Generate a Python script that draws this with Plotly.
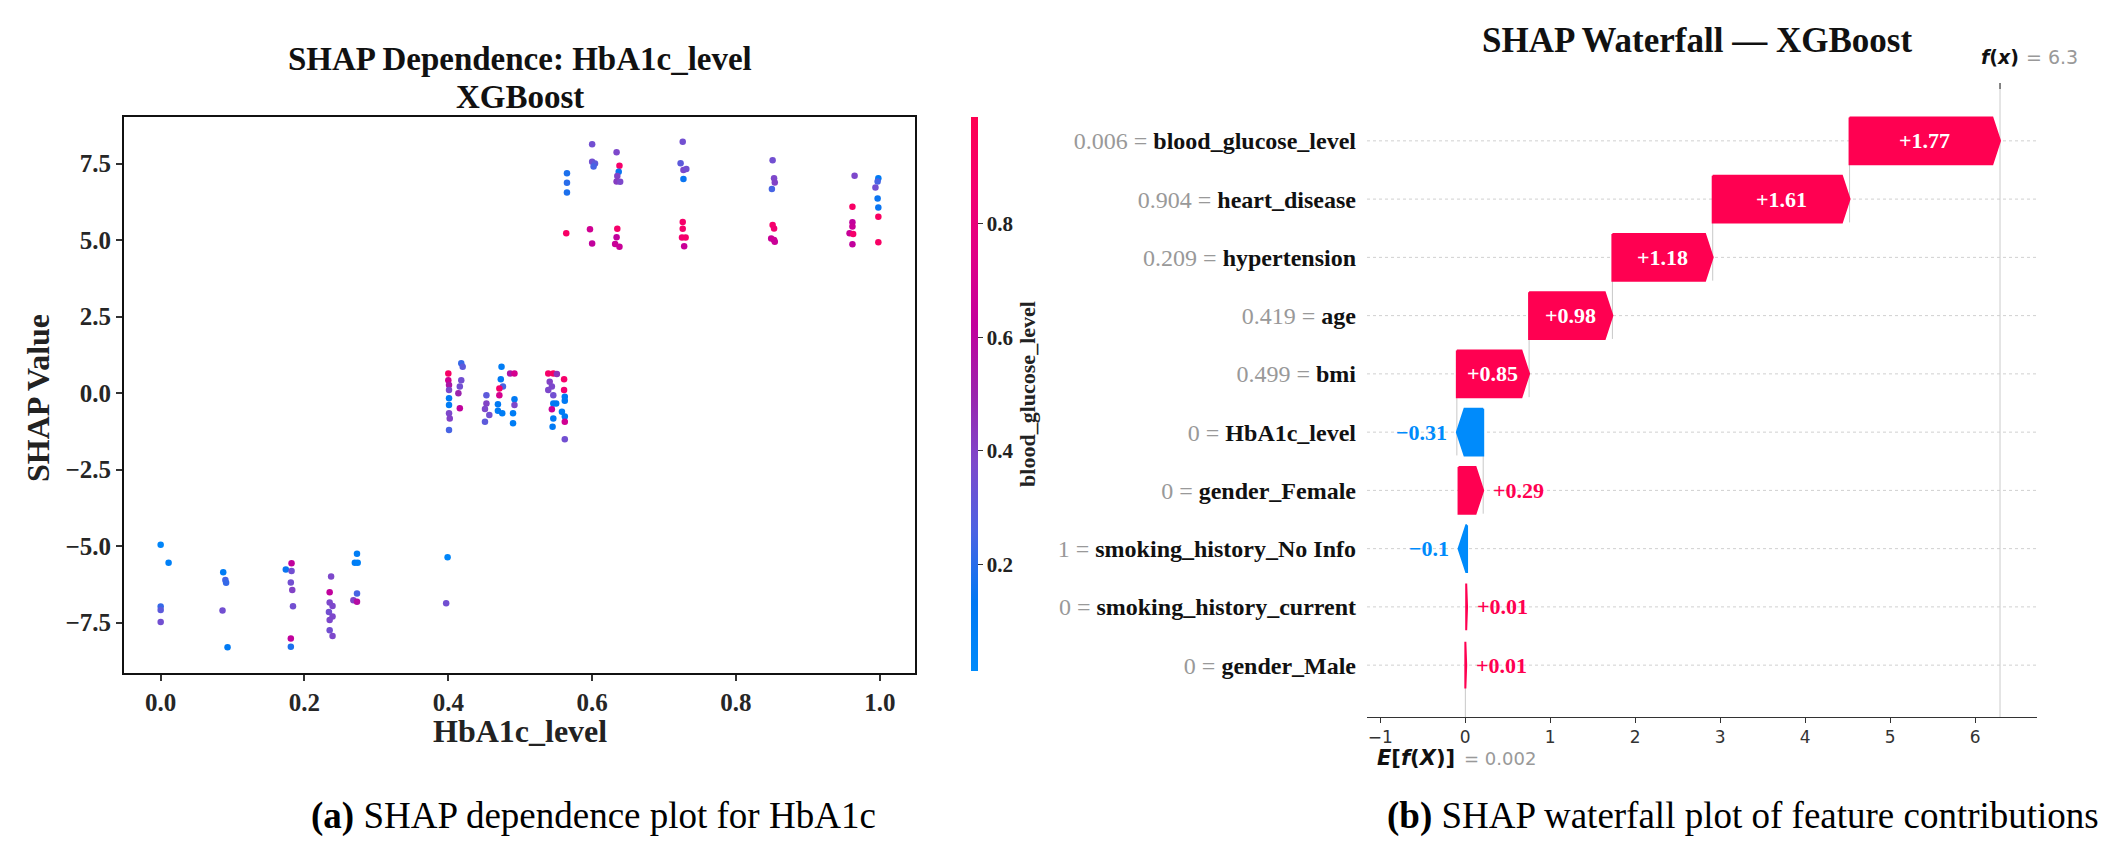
import plotly.graph_objects as go

W, H = 2108, 859
SERIF = "Liberation Serif"
SANS = "DejaVu Sans"

# ---------------- (a) SHAP dependence data ----------------
hba1c_level = [
    0.000, 0.011, 0.000, 0.000, 0.000,
    0.087, 0.090, 0.091, 0.086, 0.093,
    0.182, 0.174, 0.182, 0.181, 0.183, 0.184, 0.181, 0.181,
    0.237, 0.235, 0.235, 0.239, 0.234, 0.239, 0.235, 0.235, 0.239,
    0.273, 0.270, 0.274, 0.273, 0.268, 0.273,
    0.399, 0.397,
    0.400, 0.400, 0.401, 0.401, 0.401, 0.401, 0.401, 0.402, 0.401,
    0.418, 0.420, 0.418, 0.416, 0.414, 0.416,
    0.453, 0.453, 0.451, 0.457, 0.451,
    0.474, 0.473, 0.476, 0.471, 0.471, 0.469, 0.475, 0.469,
    0.486, 0.492, 0.492, 0.492, 0.490, 0.490,
    0.539, 0.546, 0.551, 0.541, 0.544, 0.539, 0.546, 0.546, 0.544, 0.546, 0.545, 0.550,
    0.561, 0.561, 0.562, 0.562, 0.558, 0.562, 0.562, 0.562,
    0.565, 0.565, 0.565, 0.564,
    0.600, 0.600, 0.604, 0.602, 0.597, 0.600,
    0.634, 0.638, 0.637, 0.635, 0.634, 0.639, 0.635, 0.634, 0.632, 0.638,
    0.726, 0.723, 0.727, 0.731, 0.727, 0.726, 0.726, 0.725, 0.730, 0.728,
    0.851, 0.853, 0.854, 0.850, 0.851, 0.853, 0.849, 0.853, 0.854,
    0.965, 0.962, 0.962, 0.962, 0.958, 0.963, 0.962,
    0.998, 0.997, 0.994, 0.997, 0.998, 0.998, 0.998,
]
shap_value = [
    -4.96, -5.55, -6.98, -7.09, -7.48,
    -5.86, -6.11, -6.20, -7.11, -8.31,
    -5.56, -5.77, -5.82, -6.19, -6.44, -6.97, -8.02, -8.29,
    -6.00, -6.51, -6.85, -6.96, -7.16, -7.30, -7.42, -7.75, -7.94,
    -5.25, -5.55, -5.55, -6.55, -6.77, -6.82,
    -5.37, -6.87,
    0.64, 0.42, 0.26, 0.10, -0.17, -0.39, -0.66, -0.83, -1.21,
    0.97, 0.86, 0.42, 0.21, -0.01, -0.50,
    -0.07, -0.34, -0.52, -0.72, -0.94,
    0.86, 0.45, 0.21, 0.15, -0.07, -0.37, -0.66, -0.58,
    0.64, 0.64, -0.20, -0.39, -0.66, -0.99,
    0.64, 0.64, 0.62, 0.37, 0.21, 0.10, -0.07, -0.34, -0.53, -0.83, -1.10, -0.34,
    0.45, 0.10, -0.12, -0.25, -0.61, -0.77, -0.94, -1.51,
    7.18, 6.87, 6.55, 5.22,
    8.13, 7.56, 7.50, 7.40, 5.35, 4.89,
    7.87, 7.43, 7.23, 7.09, 6.91, 6.90, 5.37, 5.09, 4.87, 4.78,
    8.21, 7.51, 7.29, 7.32, 6.99, 5.59, 5.37, 5.08, 5.08, 4.80,
    7.61, 7.02, 6.88, 6.67, 5.49, 5.38, 5.05, 5.00, 4.94,
    7.10, 6.09, 5.58, 5.44, 5.22, 5.20, 4.86,
    7.02, 6.91, 6.72, 6.36, 6.06, 5.76, 4.93,
]
blood_glucose_level = [
    0.05, 0.08, 0.22, 0.30, 0.35,
    0.10, 0.25, 0.22, 0.35, 0.12,
    0.62, 0.15, 0.35, 0.35, 0.40, 0.35, 0.62, 0.18,
    0.38, 0.62, 0.38, 0.38, 0.35, 0.38, 0.38, 0.35, 0.38,
    0.10, 0.10, 0.08, 0.25, 0.40, 0.58,
    0.05, 0.35,
    0.90, 0.68, 0.55, 0.38, 0.12, 0.10, 0.38, 0.40, 0.25,
    0.22, 0.30, 0.35, 0.35, 0.50, 0.62,
    0.30, 0.40, 0.38, 0.35, 0.30,
    0.10, 0.12, 0.25, 0.88, 0.70, 0.12, 0.10, 0.10,
    0.55, 0.70, 0.12, 0.38, 0.10, 0.10,
    0.88, 0.92, 0.45, 0.40, 0.38, 0.38, 0.35, 0.12, 0.65, 0.12, 0.12, 0.12,
    0.88, 0.85, 0.12, 0.12, 0.10, 0.12, 0.68, 0.35,
    0.18, 0.20, 0.18, 0.90,
    0.35, 0.35, 0.30, 0.25, 0.68, 0.62,
    0.38, 0.88, 0.15, 0.40, 0.42, 0.38, 0.88, 0.62, 0.65, 0.65,
    0.35, 0.30, 0.38, 0.35, 0.15, 0.88, 0.88, 0.85, 0.88, 0.65,
    0.35, 0.38, 0.40, 0.25, 0.88, 0.85, 0.65, 0.68, 0.65,
    0.38, 0.90, 0.62, 0.65, 0.65, 0.88, 0.62,
    0.12, 0.25, 0.35, 0.15, 0.15, 0.92, 0.90,
]
x_ticks_a = [0.0, 0.2, 0.4, 0.6, 0.8, 1.0]
y_ticks_a = [-7.5, -5.0, -2.5, 0.0, 2.5, 5.0, 7.5]
cbar_ticks = [0.2, 0.4, 0.6, 0.8]

# ---------------- (b) SHAP waterfall data ----------------
features = ["blood_glucose_level", "heart_disease", "hypertension", "age", "bmi",
            "HbA1c_level", "gender_Female", "smoking_history_No Info",
            "smoking_history_current", "gender_Male"]
feature_values = ["0.006", "0.904", "0.209", "0.419", "0.499", "0", "0", "1", "0", "0"]
contributions = [1.77, 1.61, 1.18, 0.98, 0.85, -0.31, 0.29, -0.1, 0.01, 0.01]
base_value = 0.002
x_ticks_b = [-1, 0, 1, 2, 3, 4, 5, 6]

RED = "#ff0051"
BLUE = "#008bfb"

colorscale = [
    [0.0, "rgb(0,139,251)"], [0.125, "rgb(0,120,243)"], [0.25, "rgb(75,99,227)"],
    [0.375, "rgb(125,73,204)"], [0.5, "rgb(155,35,173)"], [0.625, "rgb(194,0,156)"],
    [0.75, "rgb(224,0,134)"], [0.875, "rgb(245,0,109)"], [1.0, "rgb(255,0,81)"],
]


def px(x):
    return x / W


def py(y):
    return 1 - y / H


# geometry (pixels)
A_L, A_R, A_T, A_B = 124, 915, 117, 673
B_L, B_R, B_T, B_B = 1367, 2037, 89, 717
XR_A = [-0.051, 1.049]
YR_A = [-9.15, 9.02]
XR_B = [-1.155, 6.727]
YR_B = [-0.89, 9.89]

fig = go.Figure()

# ---- (a) scatter ----
fig.add_trace(go.Scatter(
    x=hba1c_level, y=shap_value, mode="markers", xaxis="x", yaxis="y",
    hoverinfo="skip", showlegend=False,
    marker=dict(
        size=6.5, color=blood_glucose_level, colorscale=colorscale,
        cmin=0.012, cmax=0.988, line=dict(width=0),
        colorbar=dict(
            x=px(971), xanchor="left", xpad=0, ypad=0,
            y=py((A_T + 671) / 2), yanchor="middle",
            len=671 - A_T, lenmode="pixels", thickness=7, outlinewidth=0,
            ticks="outside", ticklen=5, tickwidth=1, tickcolor="#333",
            tickvals=cbar_ticks, ticktext=[f"{t:.1f}" for t in cbar_ticks],
            tickfont=dict(family=SERIF, size=21, color="#222", weight="bold"),
            title=dict(text="blood_glucose_level", side="right",
                       font=dict(family=SERIF, size=22, color="#222", weight="bold")),
        ),
    ),
))

# ---- (b) waterfall ----
n = len(contributions)
rows_y = [n - 1 - k for k in range(n)]
starts = [0.0] * n
ends = [0.0] * n
cum = base_value
for k in reversed(range(n)):
    starts[k] = cum
    cum += contributions[k]
    ends[k] = cum
fx = cum

HEAD = 0.09
HALF = 0.4
px_per_unit = (B_R - B_L) / (XR_B[1] - XR_B[0])


def fmt(v):
    s = f"{v:+.2f}".rstrip("0").rstrip(".")
    return s.replace("-", "\u2212")


annotations = []
shapes = []

for k in range(n):
    v = contributions[k]
    x0, x1, y = starts[k], ends[k], rows_y[k]
    hl = min(abs(v), HEAD)
    s = 1 if v > 0 else -1
    col = RED if v > 0 else BLUE
    xs = [x0, x1 - s * hl, x1, x1 - s * hl, x0, x0]
    ys = [y + HALF, y + HALF, y, y - HALF, y - HALF, y + HALF]
    fig.add_trace(go.Scatter(
        x=xs, y=ys, xaxis="x2", yaxis="y2", mode="lines", fill="toself",
        fillcolor=col, line=dict(color=col, width=2), hoverinfo="skip", showlegend=False))
    if abs(v) * px_per_unit > 62:
        annotations.append(dict(
            x=(x0 + x1) / 2, y=y, xref="x2", yref="y2", text=fmt(v), showarrow=False,
            xanchor="center", yanchor="middle",
            font=dict(family=SERIF, size=22, color="white", weight="bold")))
    else:
        annotations.append(dict(
            x=x1, y=y, xref="x2", yref="y2", text=fmt(v), showarrow=False,
            xanchor="left" if v > 0 else "right", yanchor="middle",
            xshift=8 if v > 0 else -8,
            font=dict(family=SERIF, size=22, color=col, weight="bold")))

# dotted row guides
for k in range(n):
    shapes.append(dict(type="line", xref="x2 domain", yref="y2", x0=0, x1=1,
                       y0=rows_y[k], y1=rows_y[k], layer="below",
                       line=dict(color="#d0d0d0", width=1, dash="dot")))
# connectors between consecutive bars
for k in range(n - 4):
    shapes.append(dict(type="line", xref="x2", yref="y2", x0=starts[k], x1=starts[k],
                       y0=max(rows_y[k] - 1 - HALF, YR_B[0]), y1=rows_y[k] + HALF,
                       layer="below", line=dict(color="#c8c8c8", width=1)))
# E[f(X)] and f(x) lines
shapes.append(dict(type="line", xref="x2", yref="y2 domain", x0=base_value, x1=base_value,
                   y0=0, y1=1 / n, layer="below", line=dict(color="#c8c8c8", width=1)))
shapes.append(dict(type="line", xref="x2", yref="y2 domain", x0=fx, x1=fx,
                   y0=0, y1=1, layer="below", line=dict(color="#cccccc", width=1)))
shapes.append(dict(type="line", xref="x2", yref="y2 domain", x0=fx, x1=fx,
                   y0=1, y1=1 + 6 / (B_B - B_T), line=dict(color="#333", width=1.2)))

ticktext_b = [f'<span style="color:#999999">{feature_values[k]} = </span><b>{features[k]}</b>'
              for k in range(n)]


def ann(x, y, text, size, color="#111", bold=False, **kw):
    d = dict(x=x, y=y, xref="paper", yref="paper", showarrow=False, text=text,
             xanchor="center", yanchor="middle",
             font=dict(family=SERIF, size=size, color=color, weight="bold" if bold else "normal"))
    d.update(kw)
    return d


annotations += [
    ann(px((A_L + A_R) / 2), py(59), "SHAP Dependence: HbA1c_level", 33, bold=True),
    ann(px((A_L + A_R) / 2), py(97), "XGBoost", 33, bold=True),
    ann(px((A_L + A_R) / 2), py(731), "HbA1c_level", 32, color="#222", bold=True),
    ann(px(38), py((A_T + A_B) / 2 + 3), "SHAP Value", 32, color="#222", bold=True,
        textangle=-90),
    ann(px(1697), py(40), "SHAP Waterfall \u2014 XGBoost", 35, bold=True),
    ann(px(593), py(816), "<b>(a)</b> SHAP dependence plot for HbA1c", 37, color="#000"),
    ann(px(1743), py(816), "<b>(b)</b> SHAP waterfall plot of feature contributions", 37,
        color="#000"),
    dict(x=fx, y=py(57), xref="x2", yref="paper", showarrow=False, xanchor="center",
         yanchor="middle", text="<b><i>f</i>(<i>x</i>)</b>",
         font=dict(family=SANS, size=19, color="#111")),
    dict(x=fx, y=py(57), xref="x2", yref="paper", showarrow=False, xanchor="left",
         yanchor="middle", xshift=24, text=f"= {fx:.1f}",
         font=dict(family=SANS, size=19, color="#999999")),
    dict(x=base_value, y=py(758), xref="x2", yref="paper", showarrow=False,
         xanchor="right", yanchor="middle", xshift=-8,
         text="<b><i>E</i>[<i>f</i>(<i>X</i>)]</b>",
         font=dict(family=SANS, size=21, color="#111")),
    dict(x=base_value, y=py(758), xref="x2", yref="paper", showarrow=False,
         xanchor="left", yanchor="middle", xshift=-3, text=f"= {base_value:.3f}",
         font=dict(family=SANS, size=18, color="#999999")),
]

axis_font_a = dict(family=SERIF, size=25, color="#262626", weight="bold")

fig.update_layout(
    width=W, height=H, autosize=False,
    margin=dict(l=0, r=0, t=0, b=0),
    paper_bgcolor="white", plot_bgcolor="white",
    showlegend=False,
    xaxis=dict(domain=[px(A_L), px(A_R)], range=XR_A, anchor="y",
               showline=True, linewidth=2, linecolor="#111", mirror=True,
               ticks="outside", ticklen=6, tickwidth=1.5, tickcolor="#333",
               tickvals=x_ticks_a, ticktext=[f"{t:.1f}" for t in x_ticks_a],
               tickfont=axis_font_a, showgrid=False, zeroline=False),
    yaxis=dict(domain=[py(A_B), py(A_T)], range=YR_A, anchor="x",
               showline=True, linewidth=2, linecolor="#111", mirror=True,
               ticks="outside", ticklen=6, tickwidth=1.5, tickcolor="#333",
               tickvals=y_ticks_a,
               ticktext=[f"{t:.1f}".replace("-", "\u2212") for t in y_ticks_a],
               tickfont=axis_font_a, showgrid=False, zeroline=False),
    xaxis2=dict(domain=[px(B_L), px(B_R)], range=XR_B, anchor="y2",
                showline=True, linewidth=1, linecolor="#333",
                ticks="outside", ticklen=5, tickwidth=1, tickcolor="#333",
                tickvals=x_ticks_b, ticktext=[str(t).replace("-", "\u2212") for t in x_ticks_b],
                tickfont=dict(family=SANS, size=17, color="#333"),
                showgrid=False, zeroline=False),
    yaxis2=dict(domain=[py(B_B), py(B_T)], range=YR_B, anchor="x2",
                showline=False, ticks="", tickvals=rows_y, ticktext=ticktext_b,
                ticklabelstandoff=10,
                tickfont=dict(family=SERIF, size=24, color="#111"),
                showgrid=False, zeroline=False),
    annotations=annotations,
    shapes=shapes,
)

fig.write_html("out.html")
